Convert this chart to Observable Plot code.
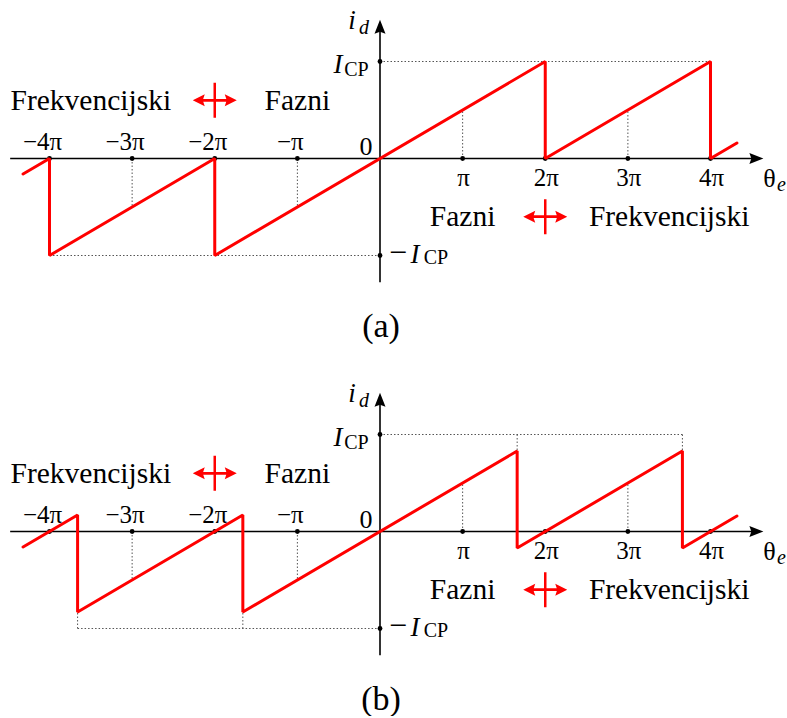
<!DOCTYPE html>
<html>
<head>
<meta charset="utf-8">
<script src="https://cdn.jsdelivr.net/npm/d3@7"></script>
<script src="https://cdn.jsdelivr.net/npm/@observablehq/plot@0.6"></script>
<style>
  body { margin: 0; background: #fff; }
  .panel svg { display: block; }
  .panel svg text { font-family: "Liberation Serif", "Times New Roman", serif; }
  .cap {
    width: 762px;
    margin-top: 9px;
    font-family: "Liberation Serif", "Times New Roman", serif;
    font-size: 34px;
    line-height: 34px;
    text-align: center;
    color: #000;
  }
  #chart-b { margin-top: 30px; }
</style>
</head>
<body>
<div id="chart-a" class="panel"></div>
<div class="cap">(a)</div>
<div id="chart-b" class="panel"></div>
<div class="cap">(b)</div>
<script>
// Phase error θe, in multiples of π
const thetaTicks = [-4, -3, -2, -1, 1, 2, 3, 4];
const thetaTickLabels = ["−4π", "−3π", "−2π", "−π", "π", "2π", "3π", "4π"];

// Charge-pump current levels, in units of I_CP
const currentTicks = [1, -1];

// Extent of the drawn axes (θ in π, i_d in I_CP)
const thetaAxis = [-4.47, 4.64];
const currentAxis = [-1.28, 1.43];

// (a) detector characteristic: vertices of the sawtooth
const sawThetaA = [-4.32, -4, -4, -2, -2, 2, 2, 4, 4, 4.32];
const sawCurrentA = [-0.16, 0, -1, 0, -1, 1, 0, 1, 0, 0.16];

// (b) characteristic with the reset moved before ±2π
const sawThetaB = [-4.32, -3.66, -3.66, -1.66, -1.66, 1.66, 1.66, 3.66, 3.66, 4.32];
const sawCurrentB = [-0.16, 0.17, -0.83, 0.17, -0.83, 0.83, -0.17, 0.83, -0.17, 0.16];

// Dotted helper lines: [θ1, i1, θ2, i2]
const guidesA = [
  [0, 1, 4, 1], [-4, -1, 0, -1],
  [-3, 0, -3, -0.5], [-1, 0, -1, -0.5], [1, 0, 1, 0.5], [3, 0, 3, 0.5]
];
const guidesB = [
  [0, 1, 3.66, 1], [1.66, 1, 1.66, 0.83], [3.66, 1, 3.66, 0.83],
  [-3.66, -1, 0, -1], [-3.66, -1, -3.66, -0.83], [-1.66, -1, -1.66, -0.83],
  [-3, 0, -3, -0.5], [-1, 0, -1, -0.5], [1, 0, 1, 0.5], [3, 0, 3, 0.5]
];

// Operating-mode annotations and the boundaries between them
const modeLabels = ["Frekvencijski", "Fazni", "Fazni", "Frekvencijski"];
const modeTheta = [-3.5, -1, 1, 3.5];
const modeCurrent = [0.6, 0.6, -0.6, -0.6];
const switchTheta = [-2, 2];
const switchCurrent = [0.6, -0.6];

const RED = "#ff0000";
const FONT = "Liberation Serif";

// Filled arrowhead pointing up, tip at the origin
const axisHead = {
  draw(ctx, size) {
    const s = Math.sqrt(size / Math.PI) / 14;
    ctx.moveTo(0, 0);
    ctx.lineTo(5.5 * s, 14 * s);
    ctx.lineTo(0, 12 * s);
    ctx.lineTo(-5.5 * s, 14 * s);
    ctx.closePath();
  }
};

// Double-headed horizontal arrow crossed by a vertical bar
const switchSymbol = {
  draw(ctx, size) {
    const r = Math.sqrt(size / Math.PI);
    ctx.rect(-r + 10, -1.4, 2 * r - 20, 2.8);
    ctx.moveTo(-r, 0);
    ctx.lineTo(-r + 12, -6);
    ctx.lineTo(-r + 10, 0);
    ctx.lineTo(-r + 12, 6);
    ctx.closePath();
    ctx.moveTo(r, 0);
    ctx.lineTo(r - 12, 6);
    ctx.lineTo(r - 10, 0);
    ctx.lineTo(r - 12, -6);
    ctx.closePath();
    ctx.rect(-1.25, -17.5, 2.5, 35);
  }
};

function panel(sawTheta, sawCurrent, guides) {
  const saw = sawTheta.map((t, k) => ({theta: t, current: sawCurrent[k]}));
  const heads = [
    {theta: thetaAxis[1], current: 0, angle: 90},
    {theta: 0, current: currentAxis[1], angle: 0}
  ];
  const txt = {fontFamily: FONT, fill: "black", lineAnchor: "middle"};
  return Plot.plot({
    width: 787,
    height: 300,
    marginLeft: 49,
    marginRight: 77,
    marginTop: 61,
    marginBottom: 45,
    style: {background: "white", overflow: "visible"},
    x: {domain: [-4, 4], axis: null},
    y: {domain: [-1, 1], axis: null},
    marks: [
      Plot.link(guides, {
        x1: d => d[0], y1: d => d[1], x2: d => d[2], y2: d => d[3],
        stroke: "#555", strokeWidth: 1, strokeDasharray: "1.5,2"
      }),
      Plot.ruleY([0], {x1: thetaAxis[0], x2: thetaAxis[1] - 0.04, stroke: "black", strokeWidth: 1.6}),
      Plot.ruleX([0], {y1: currentAxis[0], y2: currentAxis[1] - 0.04, stroke: "black", strokeWidth: 1.6}),
      Plot.dot(heads, {x: "theta", y: "current", rotate: "angle", symbol: axisHead, r: 14, fill: "black", stroke: "none"}),
      Plot.dot(thetaTicks, {x: d => d, y: 0, r: 2.4, fill: "black"}),
      Plot.dot(currentTicks, {x: 0, y: d => d, r: 2.4, fill: "black"}),
      Plot.line(saw, {x: "theta", y: "current", stroke: RED, strokeWidth: 3, strokeLinejoin: "miter"}),
      Plot.dot(switchTheta, {x: d => d, y: (d, i) => switchCurrent[i], symbol: switchSymbol, r: 22, fill: RED, stroke: "none"}),
      // tick labels: negative above the axis (sign hanging left), positive below
      Plot.text(thetaTicks, {...txt, filter: d => d < 0, x: d => d, y: 0, text: (d, i) => thetaTickLabels[i], fontSize: 25, dx: -7, dy: -17}),
      Plot.text(thetaTicks, {...txt, filter: d => d > 0, x: d => d, y: 0, text: (d, i) => thetaTickLabels[i], fontSize: 25, dx: 1, dy: 19}),
      Plot.text([0], {...txt, x: 0, y: 0, text: () => "0", fontSize: 26, dx: -14, dy: -12}),
      // axis names
      Plot.text([0], {...txt, x: 0, y: currentAxis[1], text: () => "i", fontStyle: "italic", fontSize: 27, dx: -28, dy: 1}),
      Plot.text([0], {...txt, x: 0, y: currentAxis[1], text: () => "d", fontStyle: "italic", fontSize: 20, dx: -16, dy: 8}),
      Plot.text([0], {...txt, x: thetaAxis[1], y: 0, text: () => "θ", fontSize: 26, dx: 6, dy: 20}),
      Plot.text([0], {...txt, x: thetaAxis[1], y: 0, text: () => "e", fontStyle: "italic", fontSize: 20, dx: 18, dy: 26}),
      // current level labels
      Plot.text([1], {...txt, x: 0, y: d => d, text: () => "I", fontStyle: "italic", fontSize: 27, dx: -42, dy: 3}),
      Plot.text([1], {...txt, x: 0, y: d => d, text: () => "CP", fontSize: 20, dx: -23.5, dy: 8}),
      Plot.text([-1], {...txt, x: 0, y: d => d, text: () => "−", fontSize: 32, dx: 18, dy: -3}),
      Plot.text([-1], {...txt, x: 0, y: d => d, text: () => "I", fontStyle: "italic", fontSize: 27, dx: 35, dy: -1}),
      Plot.text([-1], {...txt, x: 0, y: d => d, text: () => "CP", fontSize: 20, dx: 56, dy: 2}),
      // mode labels
      Plot.text(modeLabels, {...txt, x: (d, i) => modeTheta[i], y: (d, i) => modeCurrent[i], text: d => d, fontSize: 29.5})
    ]
  });
}

document.getElementById("chart-a").append(panel(sawThetaA, sawCurrentA, guidesA));
document.getElementById("chart-b").append(panel(sawThetaB, sawCurrentB, guidesB));
</script>
</body>
</html>
